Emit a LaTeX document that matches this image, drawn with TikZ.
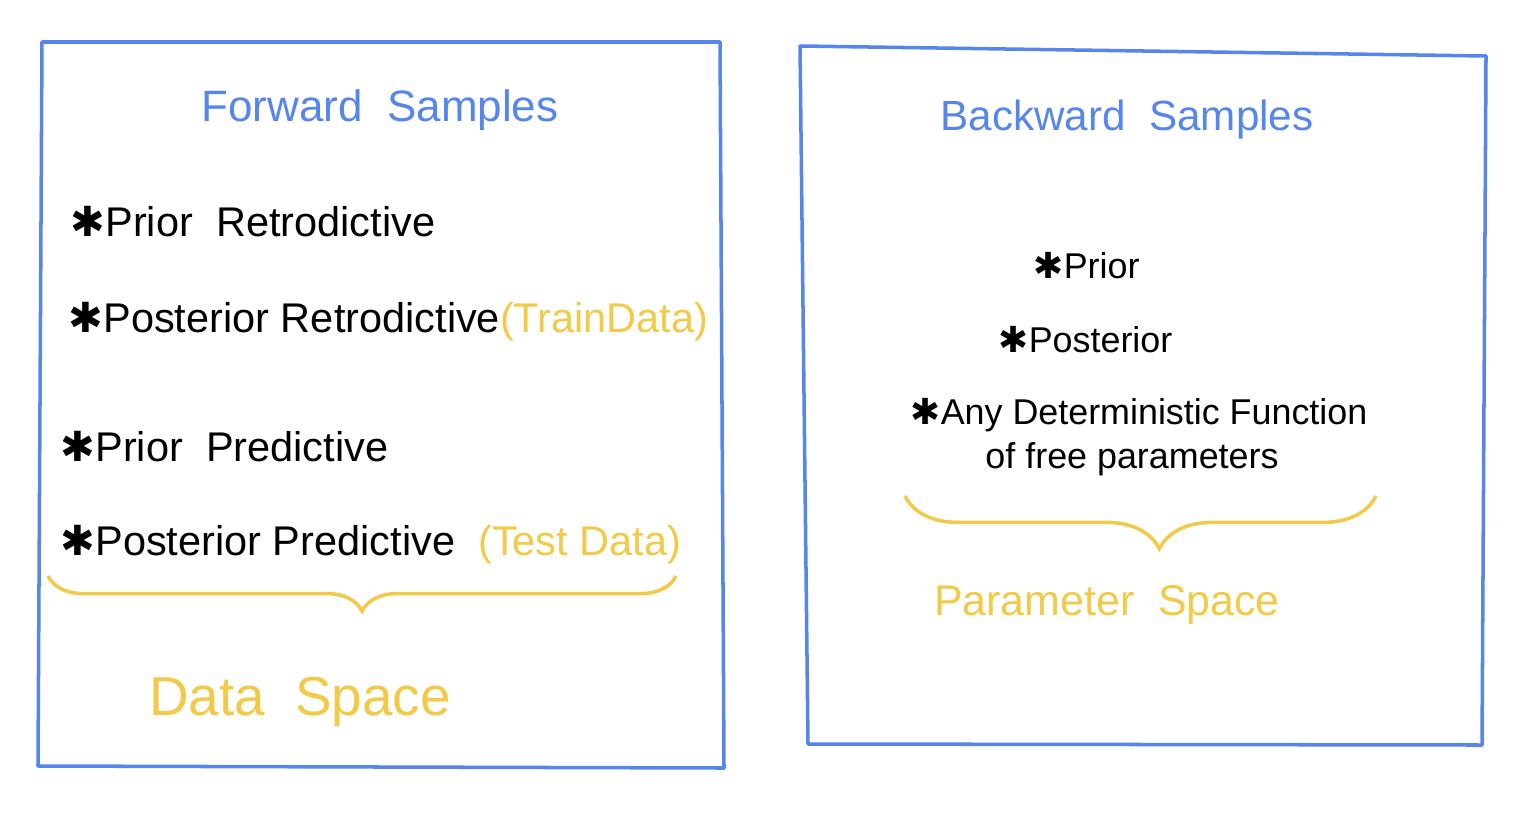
\documentclass[tikz,border=0pt]{standalone}
\usepackage{fontspec}
\setmainfont{Liberation Sans}
\newfontfamily\symfont{DejaVu Sans}
\newcommand\astmark{{\symfont\char"2731}}
\usetikzlibrary{decorations.pathreplacing}
\definecolor{penblue}{RGB}{86,134,236}
\definecolor{penyellow}{RGB}{242,202,72}

\begin{document}
\begin{tikzpicture}[x=0.01cm,y=-0.01cm,
    frame/.style={draw=penblue,line width=1pt,line join=round},
    heading/.style={text=penblue,font=\fontsize{12.5}{15}\selectfont},
    entry/.style={anchor=west,inner sep=0pt,font=\fontsize{11.8}{14}\selectfont},
    smallentry/.style={anchor=west,inner sep=0pt,font=\fontsize{10.2}{12}\selectfont},
    space/.style={text=penyellow,font=\fontsize{12.2}{15}\selectfont},
    curly/.style={draw=penyellow,line width=1pt,
      decorate,decoration={brace,mirror,amplitude=#1}}]
  \useasboundingbox (0,0) rectangle (1528,818);

  % left frame: data space
  \coordinate (fa) at (42,42); \coordinate (fb) at (720,42);
  \coordinate (fc) at (724,768); \coordinate (fd) at (38,766);
  \draw[frame] (fa)--(fb)--(fc)--(fd)--cycle;
  \node[heading] (fwd) at (380,110) {Forward\ \ Samples};
  \node[entry] (pr) at (70,222) {\astmark Prior\ \ Retrodictive};
  \node[entry] (por) at (68,322) {\astmark Posterior Retrodictive\textcolor{penyellow}{(TrainData)}};
  \node[entry] (pp) at (60,447) {\astmark Prior\ \ Predictive};
  \node[entry] (pop) at (60,545) {\astmark Posterior Predictive\ \ \textcolor{penyellow}{(Test Data)}};
  \coordinate (bl) at (48,576); \coordinate (br) at (676,576);
  \draw[curly=10pt] (bl) -- (br);
  \node[space,font=\fontsize{15.6}{19}\selectfont] (ds) at (300,702) {Data\ \ Space};

  % right frame: parameter space
  \coordinate (ga) at (800,46); \coordinate (gb) at (1486,56);
  \coordinate (gc) at (1482,745); \coordinate (gd) at (808,744);
  \draw[frame] (ga)--(gb)--(gc)--(gd)--cycle;
  \node[heading,font=\fontsize{12}{15}\selectfont] (bwd) at (1127,120) {Backward\ \ Samples};
  \node[smallentry] (pri) at (1033,266) {\astmark Prior};
  \node[smallentry] (pos) at (998,340) {\astmark Posterior};
  \node[smallentry] (det) at (910,415) {\astmark Any Deterministic Function};
  \node[smallentry,anchor=center] (fre) at (1132,459) {of free parameters};
  \coordinate (cl) at (905,496); \coordinate (cr) at (1376,496);
  \draw[curly=15pt,decoration={aspect=0.54}] (cl) -- (cr);
  \node[space] (ps) at (1107,605) {Parameter\ \ Space};
\end{tikzpicture}
\end{document}
